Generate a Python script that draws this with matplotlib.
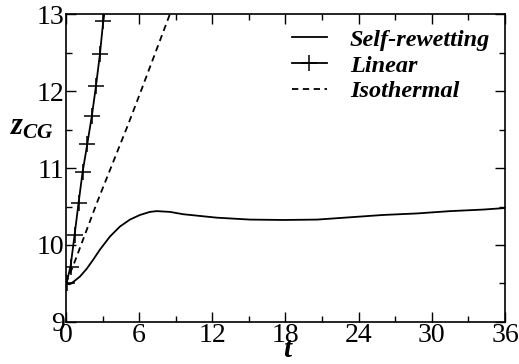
import numpy as np
import matplotlib.pyplot as plt
from matplotlib.ticker import MultipleLocator

# values
t_self = [0, 0.3, 0.6, 1.15, 1.7, 2.24, 2.79, 3.61, 4.43, 5.25, 6.07, 6.89, 7.44,
          8.53, 9.6, 12.36, 15.1, 17.8, 20.6, 23.3, 26.0, 28.8, 31.5, 34.2, 36]
z_self = [9.5, 9.49, 9.52, 9.59, 9.69, 9.81, 9.94, 10.11, 10.24, 10.33, 10.39, 10.43, 10.44,
          10.43, 10.40, 10.355, 10.33, 10.325, 10.33, 10.36, 10.39, 10.41, 10.44, 10.46, 10.48]

t_lin = [0.05, 0.38, 0.71, 1.04, 1.37, 1.75, 2.13, 2.46, 2.79, 3.06]
z_lin = [9.51, 9.72, 10.13, 10.55, 10.95, 11.31, 11.68, 12.06, 12.48, 12.91]
t_lin_end = 3.15
z_lin_end = 13.0

t_iso = [0, 0.74, 2.57, 5.09, 6.2, 8.53]
z_iso = [9.5, 9.79, 10.56, 11.56, 12.02, 13.0]

plt.rcParams["font.family"] = ["Liberation Serif", "DejaVu Serif"]
plt.rcParams["mathtext.fontset"] = "custom"
plt.rcParams["mathtext.it"] = "Liberation Serif:italic:bold"
plt.rcParams["mathtext.rm"] = "Liberation Serif:bold"

fig = plt.figure(figsize=(5.19, 3.64), dpi=100)
ax = fig.add_axes([0.127, 0.1154, 0.846, 0.8461])

ax.plot(t_self, z_self, color="black", lw=1.3, label="Self-rewetting")
ax.plot(t_lin + [t_lin_end], z_lin + [z_lin_end], color="black", lw=1.3,
        marker="+", ms=11, mew=1.1, markevery=list(range(len(t_lin))), label="Linear")
ax.plot(t_iso, z_iso, color="black", lw=1.3, ls=(0, (3.5, 2.5)), label="Isothermal")

ax.set_xlim(0, 36)
ax.set_ylim(9, 13)
ax.xaxis.set_major_locator(MultipleLocator(6))
ax.xaxis.set_minor_locator(MultipleLocator(3))
ax.yaxis.set_major_locator(MultipleLocator(1))
ax.yaxis.set_minor_locator(MultipleLocator(0.5))
ax.tick_params(which="both", direction="in", top=True, right=True, labelsize=20, pad=1)
ax.tick_params(which="major", length=7, width=1)
ax.tick_params(which="minor", length=4, width=1)
for s in ax.spines.values():
    s.set_linewidth(1.2)

fig.text(0.553, 0.003, "t", fontsize=21, fontweight="bold", fontstyle="italic", ha="center", va="bottom")
fig.text(0.02, 0.65, r"$z_{CG}$", fontsize=22, ha="left", va="center")

leg = ax.legend(loc="upper left", bbox_to_anchor=(0.492, 0.983), frameon=False,
                handlelength=1.44, handletextpad=0.95, borderaxespad=0, borderpad=0.4,
                labelspacing=0.15, prop={"size": 17.5, "weight": "bold", "style": "italic"})

fig.savefig("out.png", dpi=100)
